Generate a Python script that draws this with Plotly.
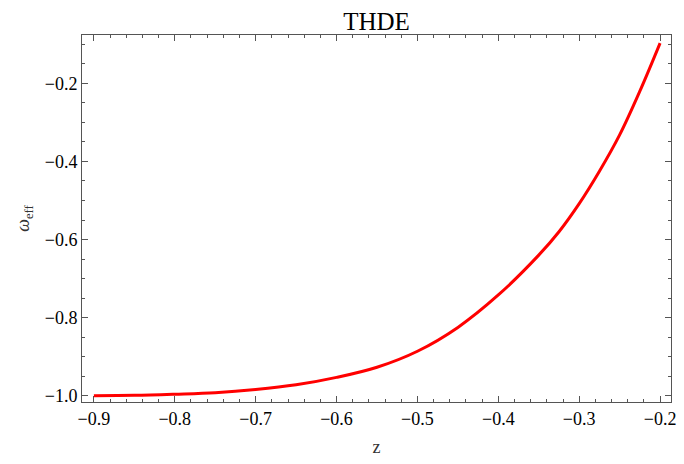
import plotly.graph_objects as go

# Data
z_vals = [-0.9, -0.85, -0.8, -0.75, -0.7, -0.65, -0.6, -0.55, -0.5, -0.45, -0.4,
          -0.35, -0.325, -0.3, -0.275, -0.25, -0.225, -0.2]
w_eff = [-1.0, -0.999, -0.996, -0.992, -0.984, -0.972, -0.953, -0.927, -0.886, -0.825, -0.742,
         -0.640, -0.580, -0.508, -0.425, -0.332, -0.220, -0.097]

x_range = [-0.9147, -0.1865]
y_range = [-1.016, -0.0763]

fig = go.Figure()
# invisible trace to carry the minor-tick axes
fig.add_trace(go.Scatter(x=[z_vals[0]], y=[w_eff[0]], xaxis="x2", yaxis="y2",
                         mode="markers", marker=dict(opacity=0), showlegend=False,
                         hoverinfo="skip"))
fig.add_trace(go.Scatter(
    x=z_vals, y=w_eff, mode="lines",
    line=dict(color="#ff0000", width=3, shape="spline", smoothing=1.0),
    showlegend=False,
))

font_family = "Liberation Serif"
axis_common = dict(
    showgrid=False, zeroline=False, showline=True, linecolor="#555", linewidth=1,
    mirror="allticks", ticks="inside", ticklen=6, tickcolor="#555", tickwidth=1,
    tickmode="linear", tickformat=".1f",
    tickfont=dict(family=font_family, size=18, color="black"),
)
minor_common = dict(
    showgrid=False, zeroline=False, showline=False, mirror="allticks",
    ticks="inside", ticklen=3, tickcolor="#555", tickwidth=1,
    tickmode="linear", showticklabels=False,
)

fig.update_layout(
    width=684, height=464,
    margin=dict(l=82, r=8, t=35, b=62),
    paper_bgcolor="white", plot_bgcolor="white",
    title=dict(text="THDE", x=0.5, xanchor="center", xref="paper", y=0.955, yanchor="middle",
               font=dict(family=font_family, size=25, color="black")),
    xaxis=dict(
        range=x_range, tick0=-0.9, dtick=0.1,
        title=dict(text="z", font=dict(family=font_family, size=18, color="#333"), standoff=12),
        **axis_common,
    ),
    yaxis=dict(
        range=y_range, tick0=-1.0, dtick=0.2,
        title=dict(text="<i>ω</i><sub>eff</sub>", font=dict(family=font_family, size=18, color="#333"), standoff=10),
        **axis_common,
    ),
    xaxis2=dict(overlaying="x", anchor="y2", side="bottom", range=x_range, tick0=-0.9, dtick=0.02,
                **minor_common),
    yaxis2=dict(overlaying="y", anchor="x2", side="left", range=y_range, tick0=-1.0, dtick=0.05,
                **minor_common),
)

fig.write_html("out.html")
